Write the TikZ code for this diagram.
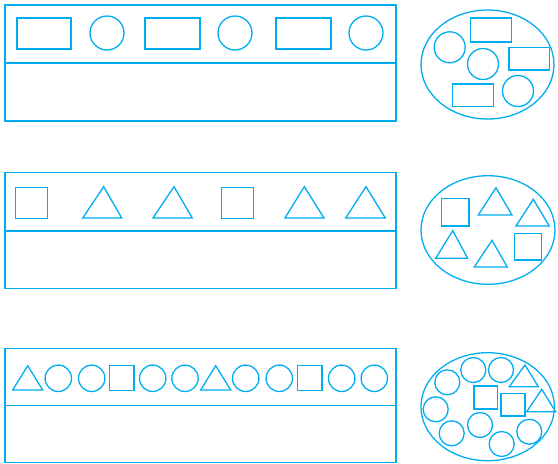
\documentclass[tikz,border=0pt]{standalone}
\begin{document}
\begin{tikzpicture}[x=1pt,y=-1pt,line width=1.3pt,line join=miter]
\definecolor{cy}{RGB}{0,174,239}
\tikzset{shp/.style={draw=cy}}
\useasboundingbox (0,0) rectangle (558,464);
% ---- panel 1
\draw[shp] (5,5) rectangle (396,121);
\draw[shp] (5,63) -- (396,63);
\draw[shp] (17,18) rectangle (71,49);
\draw[shp] (107,33) circle (17);
\draw[shp] (145,18) rectangle (200,49);
\draw[shp] (235,33) circle (17);
\draw[shp] (276,18) rectangle (331,49);
\draw[shp] (366,33) circle (17);
% ellipse 1
\draw[shp] (487.5,64.5) ellipse (66.5 and 54.5);
\draw[shp] (470.7,18) rectangle (511.7,42);
\draw[shp] (449.7,47.3) circle (15.5);
\draw[shp] (483,64) circle (15.5);
\draw[shp] (509,47.7) rectangle (549.3,70);
\draw[shp] (452.7,84) rectangle (493.3,106.7);
\draw[shp] (518,91) circle (15.5);
% ---- panel 2
\draw[shp] (5,172.3) rectangle (396,288.3);
\draw[shp] (5,231) -- (396,231);
\draw[shp] (15.7,187.7) rectangle (47.3,218.3);
\draw[shp] (103.7,186.7) -- (121.7,218) -- (82.7,218) -- cycle;
\draw[shp] (174,186.7) -- (192.3,218) -- (153,218) -- cycle;
\draw[shp] (221.3,187.7) rectangle (253.7,218.3);
\draw[shp] (304.3,186.7) -- (324,218) -- (285,218) -- cycle;
\draw[shp] (366,186.7) -- (385.3,218) -- (345.7,218) -- cycle;
% ellipse 2
\draw[shp] (488,230) ellipse (67 and 54.3);
\draw[shp] (441.7,198.3) rectangle (469,226);
\draw[shp] (496,187.7) -- (512,215) -- (478.3,215) -- cycle;
\draw[shp] (533.3,199.3) -- (549.3,226) -- (516,226) -- cycle;
\draw[shp] (452.7,230.7) -- (467.7,258.3) -- (435.7,258.3) -- cycle;
\draw[shp] (492,240.3) -- (507.3,267) -- (474.3,267) -- cycle;
\draw[shp] (514.3,233.3) rectangle (541.7,260);
% ---- panel 3
\draw[shp] (5,348.3) rectangle (396,462.7);
\draw[shp] (5,405.7) -- (396,405.7);
\draw[shp] (27.7,365.7) -- (42.7,390) -- (12.7,390) -- cycle;
\draw[shp] (58.3,378.3) circle (13.2);
\draw[shp] (91.7,378.3) circle (13.2);
\draw[shp] (109.3,365.7) rectangle (134,390.3);
\draw[shp] (152.7,378.3) circle (13.2);
\draw[shp] (185,378.3) circle (13.2);
\draw[shp] (215.7,365.7) -- (230.7,390) -- (200.7,390) -- cycle;
\draw[shp] (245.7,378.3) circle (13.2);
\draw[shp] (279.3,378.3) circle (13.2);
\draw[shp] (297.3,365.7) rectangle (322,390.3);
\draw[shp] (341.7,378.3) circle (13.2);
\draw[shp] (374.3,378.3) circle (13.2);
% ellipse 3
\draw[shp] (487.7,406.7) ellipse (66.7 and 54);
\draw[shp] (447.3,382.3) circle (12.5);
\draw[shp] (473.3,370) circle (12.5);
\draw[shp] (501,370) circle (12.5);
\draw[shp] (435.7,409.3) circle (12.5);
\draw[shp] (451.7,433.3) circle (12.5);
\draw[shp] (480,425) circle (12.5);
\draw[shp] (501.7,444) circle (12.5);
\draw[shp] (529.3,431.7) circle (12.5);
\draw[shp] (525,365) -- (538.3,386.7) -- (509.3,386.7) -- cycle;
\draw[shp] (541.7,389.3) -- (555.7,411.7) -- (526.7,411.7) -- cycle;
\draw[shp] (474,386) rectangle (497.7,409);
\draw[shp] (501,393.3) rectangle (525,416);
\end{tikzpicture}
\end{document}
